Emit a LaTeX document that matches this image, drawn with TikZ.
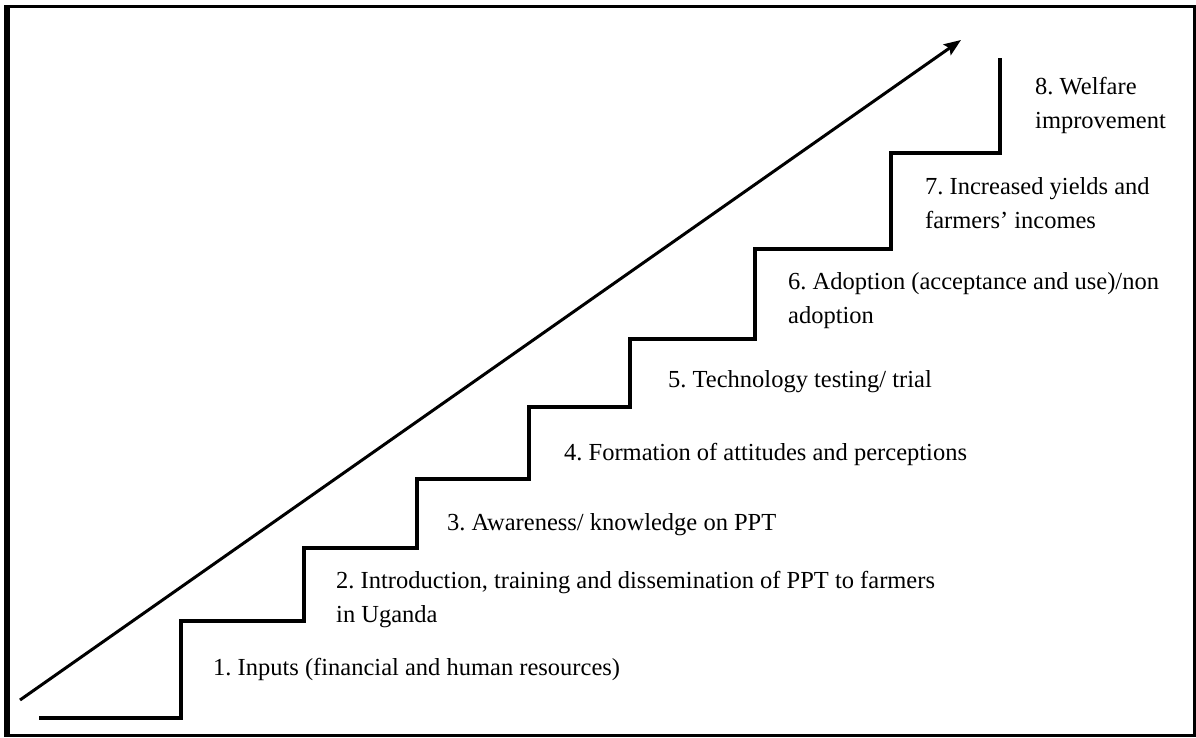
\documentclass[tikz,border=0pt]{standalone}
\usepackage{fontspec}
\setmainfont{Liberation Serif}
\usetikzlibrary{arrows.meta}
\frenchspacing
\tikzset{
  stair/.style={line width=4.5pt, line join=miter, line cap=butt},
  riseline/.style={line width=3pt, -{Stealth[length=17pt,width=13pt,inset=3pt]}},
  frameline/.style={line width=3pt},
  lbl/.style={anchor=base west, inner sep=0pt, align=left, font=\fontsize{24.5}{33.5}\selectfont}
}
\begin{document}
\begin{tikzpicture}[x=1pt,y=-1pt]
\useasboundingbox (0,0) rectangle (1196,737);
% frame
\draw[frameline] (6.5,6.5) rectangle (1194.5,735);
\draw[line width=6pt] (7,5) -- (7,736.5);
% stairs
\coordinate (s0) at (39,718);
\coordinate (s8) at (1000,58);
\draw[stair] (s0) -- (181,718) -- (181,621) -- (304,621) -- (304,548) -- (417,548) -- (417,479)
  -- (529,479) -- (529,407) -- (630,407) -- (630,339) -- (755,339) -- (755,249) -- (891,249)
  -- (891,153) -- (1000,153) -- (s8);
% arrow
\coordinate (a0) at (20,700);
\coordinate (a1) at (961,40);
\draw[riseline] (a0) -- (a1);
% labels
\node[lbl] (l1) at (213,675) {1. Inputs (financial and human resources)};
\node[lbl] (l2) at (336,622) {2. Introduction, training and dissemination of PPT to farmers\\in Uganda};
\node[lbl] (l3) at (447,530) {3. Awareness/ knowledge on PPT};
\node[lbl] (l4) at (564,460) {4. Formation of attitudes and perceptions};
\node[lbl] (l5) at (668,387) {5. Technology testing/ trial};
\node[lbl] (l6) at (788,323) {6. Adoption (acceptance and use)/non\\adoption};
\node[lbl] (l7) at (925,228) {7. Increased yields and\\farmers’ incomes};
\node[lbl] (l8) at (1035,128) {8. Welfare\\improvement};
\end{tikzpicture}
\end{document}
